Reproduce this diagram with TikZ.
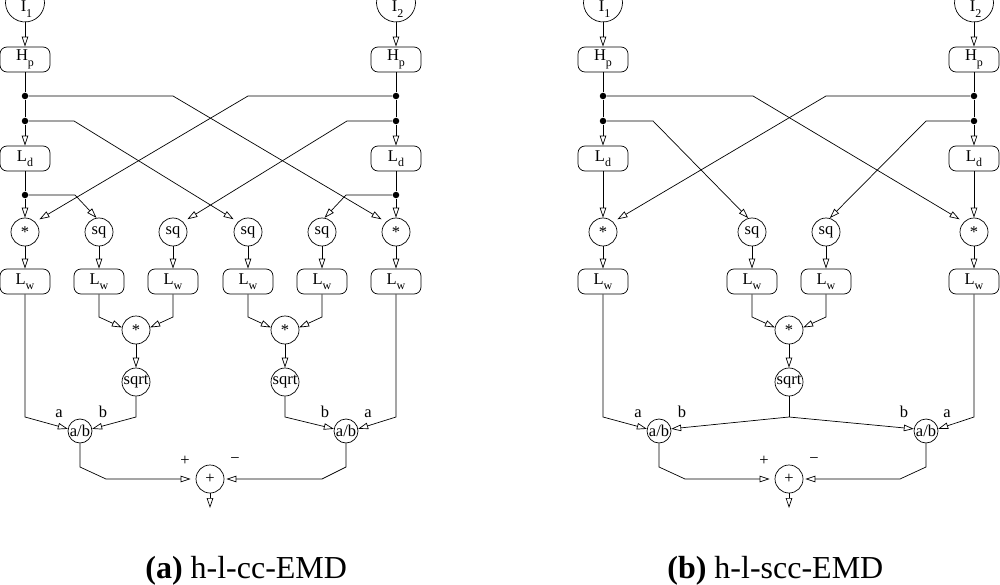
\documentclass[tikz,border=0pt]{standalone}
\usepackage{fontspec}
\setmainfont{Liberation Serif}
\usetikzlibrary{arrows.meta}
\newcommand\sbs[1]{\raisebox{-0.32em}{\fontsize{12}{12}\selectfont #1}}
\begin{document}
\begin{tikzpicture}[x=1pt,y=-1pt, line width=0.7pt,
  every node/.style={font=\fontsize{16.5}{18}\selectfont},
  box/.style={draw, rounded corners=7pt, minimum width=50pt, minimum height=25pt, inner sep=0pt},
  op/.style={draw, circle, minimum size=28pt, inner sep=0pt},
  opab/.style={draw, circle, minimum size=24pt, inner sep=0pt},
  jdot/.style={circle, fill, minimum size=6.5pt, inner sep=0pt},
  arr/.style={-{Triangle[open, length=10pt, width=6.5pt]}},
  gap/.style={shorten >=5pt},
  gapsm/.style={shorten >=2pt},
  lbl/.style={anchor=base, inner sep=0pt},
  captext/.style={anchor=base west, inner sep=0pt, font=\fontsize{32}{36}\selectfont},
]
\useasboundingbox (0,0) rectangle (1000,585);

% ================= (a) =================
% inputs
\draw (44.2,-0.9) arc[start angle=-10,end angle=190,radius=19.5];
\draw (415.2,-0.9) arc[start angle=-10,end angle=190,radius=19.5];
\node[lbl] (aI1) at (26.5,12) {I\sbs{1}};
\node[lbl] (aI2) at (397.5,12) {I\sbs{2}};
\coordinate (aI1b) at (25,22);
\coordinate (aI2b) at (396,22);

\node[box] (aHp1) at (25,59.5) {H\sbs{p}};
\node[box] (aHp2) at (396,59.5) {H\sbs{p}};
\node[jdot] (ad11) at (25,96) {};
\node[jdot] (ad12) at (25,121) {};
\node[jdot] (ad13) at (25,195) {};
\node[jdot] (ad21) at (396,96) {};
\node[jdot] (ad22) at (396,121) {};
\node[jdot] (ad23) at (396,195) {};
\node[box] (aLd1) at (25,158.5) {L\sbs{d}};
\node[box] (aLd2) at (396,158.5) {L\sbs{d}};
\node[op] (am1) at (25,232) {*};
\node[op] (asq1) at (99,232) {sq};
\node[op] (asq2) at (173,232) {sq};
\node[op] (asq3) at (248,232) {sq};
\node[op] (asq4) at (322,232) {sq};
\node[op] (am2) at (396,232) {*};
\foreach \i/\x in {1/25,2/99,3/173,4/248,5/322,6/396}
  \node[box] (aLw\i) at (\x,281.5) {L\sbs{w}};
\node[op] (amm1) at (136,330) {*};
\node[op] (amm2) at (285,330) {*};
\node[op] (asr1) at (136,382) {sqrt};
\node[op] (asr2) at (285,382) {sqrt};
\node[opab] (aab1) at (80,431) {a/b};
\node[opab] (aab2) at (346,431) {a/b};
\node[op] (apl) at (210,479) {+};
\coordinate (aout) at (210,508);

% vertical chains
\draw[arr] (aI1b) -- (aHp1);
\draw[arr] (aI2b) -- (aHp2);
\draw (aHp1) -- (ad11) -- (ad12);
\draw (aHp2) -- (ad21) -- (ad22);
\draw[arr] (ad12) -- (aLd1);
\draw[arr] (ad22) -- (aLd2);
\draw (aLd1) -- (ad13);
\draw (aLd2) -- (ad23);
\draw[arr] (ad13) -- (am1);
\draw[arr] (ad23) -- (am2);
\draw[arr] (am1) -- (aLw1);
\draw[arr] (asq1) -- (aLw2);
\draw[arr] (asq2) -- (aLw3);
\draw[arr] (asq3) -- (aLw4);
\draw[arr] (asq4) -- (aLw5);
\draw[arr] (am2) -- (aLw6);

% crossings
\coordinate (ab11) at (173,96);
\coordinate (ab12) at (74,121);
\coordinate (ab13) at (75,195);
\coordinate (ab21) at (248,96);
\coordinate (ab22) at (347,121);
\coordinate (ab23) at (346,195);
\draw[arr,gap] (ad11) -- (ab11) -- (am2.north west);
\draw[arr,gap] (ad12) -- (ab12) -- (asq3.north west);
\draw[arr] (ad13) -- (ab13) -- (asq1.100);
\draw[arr,gap] (ad21) -- (ab21) -- (am1.north east);
\draw[arr,gap] (ad22) -- (ab22) -- (asq2.north east);
\draw[arr] (ad23) -- (ab23) -- (asq4.80);

% products
\coordinate (ak2) at (99,317);
\coordinate (ak3) at (173,317);
\coordinate (ak4) at (248,317);
\coordinate (ak5) at (322,317);
\draw[arr] (aLw2) -- (ak2) -- (amm1.170);
\draw[arr] (aLw3) -- (ak3) -- (amm1.10);
\draw[arr] (aLw4) -- (ak4) -- (amm2.170);
\draw[arr] (aLw5) -- (ak5) -- (amm2.10);
\draw[arr] (amm1) -- (asr1);
\draw[arr] (amm2) -- (asr2);

% ratios
\coordinate (ak1) at (25,417);
\coordinate (ak6) at (396,417);
\coordinate (as1) at (136,417);
\coordinate (as2) at (285,417);
\draw[arr] (aLw1) -- (ak1) -- (aab1.170);
\draw[arr] (asr1) -- (as1) -- (aab1.10);
\draw[arr] (asr2) -- (as2) -- (aab2.170);
\draw[arr] (aLw6) -- (ak6) -- (aab2.10);

% sum
\coordinate (ae1) at (80,467);
\coordinate (af1) at (106,479);
\coordinate (ae2) at (346,467);
\coordinate (af2) at (322,479);
\draw[arr,gap] (aab1) -- (ae1) -- (af1) -- (apl.west);
\draw[arr,gapsm] (aab2) -- (ae2) -- (af2) -- (apl.east);
\draw[arr] (apl) -- (aout);

\node[lbl] (aLa1) at (59,417) {a};
\node[lbl] (aLb1) at (103,417) {b};
\node[lbl] (aLb2) at (325,417) {b};
\node[lbl] (aLa2) at (368,417) {a};
\node (aLp) at (185,461) {+};
\node (aLm) at (235,461) {−};

\node[captext] (capa) at (145,578) {\textbf{(a)} h-l-cc-EMD};

% ================= (b) =================
\draw (622.2,-0.9) arc[start angle=-10,end angle=190,radius=19.5];
\draw (993.2,-0.9) arc[start angle=-10,end angle=190,radius=19.5];
\node[lbl] (bI1) at (604.5,12) {I\sbs{1}};
\node[lbl] (bI2) at (975.5,12) {I\sbs{2}};
\coordinate (bI1b) at (603,22);
\coordinate (bI2b) at (974,22);

\node[box] (bHp1) at (603,59.5) {H\sbs{p}};
\node[box] (bHp2) at (974,59.5) {H\sbs{p}};
\node[jdot] (bd11) at (603,96) {};
\node[jdot] (bd12) at (603,121) {};
\node[jdot] (bd21) at (974,96) {};
\node[jdot] (bd22) at (974,121) {};
\node[box] (bLd1) at (603,158.5) {L\sbs{d}};
\node[box] (bLd2) at (974,158.5) {L\sbs{d}};
\node[op] (bm1) at (603,232) {*};
\node[op] (bsq1) at (752,232) {sq};
\node[op] (bsq2) at (826,232) {sq};
\node[op] (bm2) at (974,232) {*};
\foreach \i/\x in {1/603,2/752,3/826,4/974}
  \node[box] (bLw\i) at (\x,281.5) {L\sbs{w}};
\node[op] (bmm) at (789,330) {*};
\node[op] (bsr) at (789,382) {sqrt};
\node[opab] (bab1) at (659,431) {a/b};
\node[opab] (bab2) at (926,431) {a/b};
\node[op] (bpl) at (789,479) {+};
\coordinate (bout) at (789,508);

\draw[arr] (bI1b) -- (bHp1);
\draw[arr] (bI2b) -- (bHp2);
\draw (bHp1) -- (bd11) -- (bd12);
\draw (bHp2) -- (bd21) -- (bd22);
\draw[arr] (bd12) -- (bLd1);
\draw[arr] (bd22) -- (bLd2);
\draw[arr] (bLd1) -- (bm1);
\draw[arr] (bLd2) -- (bm2);
\draw[arr] (bm1) -- (bLw1);
\draw[arr] (bsq1) -- (bLw2);
\draw[arr] (bsq2) -- (bLw3);
\draw[arr] (bm2) -- (bLw4);

\coordinate (bb11) at (753,96);
\coordinate (bb12) at (653,121);
\coordinate (bb21) at (826,96);
\coordinate (bb22) at (926,121);
\draw[arr,gap] (bd11) -- (bb11) -- (bm2.north west);
\draw[arr] (bd12) -- (bb12) -- (bsq1.105);
\draw[arr,gap] (bd21) -- (bb21) -- (bm1.north east);
\draw[arr] (bd22) -- (bb22) -- (bsq2.75);

\coordinate (bk2) at (752,317);
\coordinate (bk3) at (826,317);
\draw[arr] (bLw2) -- (bk2) -- (bmm.170);
\draw[arr] (bLw3) -- (bk3) -- (bmm.10);
\draw[arr] (bmm) -- (bsr);

\coordinate (bbr) at (789,417);
\coordinate (bk1) at (603,417);
\coordinate (bk4) at (974,417);
\draw (bsr) -- (bbr);
\draw[arr] (bbr) -- (bab1.10);
\draw[arr] (bbr) -- (bab2.170);
\draw[arr] (bLw1) -- (bk1) -- (bab1.170);
\draw[arr] (bLw4) -- (bk4) -- (bab2.10);

\coordinate (be1) at (659,467);
\coordinate (bf1) at (685,479);
\coordinate (be2) at (926,467);
\coordinate (bf2) at (900,479);
\draw[arr,gap] (bab1) -- (be1) -- (bf1) -- (bpl.west);
\draw[arr,gapsm] (bab2) -- (be2) -- (bf2) -- (bpl.east);
\draw[arr] (bpl) -- (bout);

\node[lbl] (bLa1) at (638,417) {a};
\node[lbl] (bLb1) at (682,417) {b};
\node[lbl] (bLb2) at (904,417) {b};
\node[lbl] (bLa2) at (947,417) {a};
\node (bLp) at (764,461) {+};
\node (bLm) at (814,461) {−};

\node[captext] (capb) at (667,578) {\textbf{(b)} h-l-scc-EMD};
\end{tikzpicture}
\end{document}
